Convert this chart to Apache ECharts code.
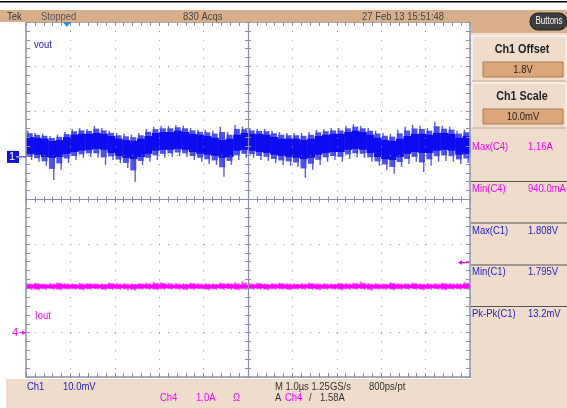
<!DOCTYPE html>
<html><head><meta charset="utf-8">
<script src="https://cdn.jsdelivr.net/npm/echarts@6/dist/echarts.min.js"></script>
<style>html,body{margin:0;padding:0;background:#fff}#c{width:567px;height:408px}</style>
</head><body><div id="c"></div>
<script>
// ---- Ch1 (vout) envelope per time bin, in mV (10 mV/div, offset 1.8 V) ----
const ch1CoreTop = [1804.5,1804.3,1804.1,1803.6,1803.8,1804.5,1805.0,1805.2,1805.2,1805.4,
  1805.2,1804.7,1804.1,1803.8,1803.6,1804.1,1804.7,1805.4,1805.6,1805.6,
  1805.9,1805.6,1805.2,1805.0,1804.7,1804.3,1803.8,1804.1,1805.0,1805.4,
  1805.2,1805.2,1805.0,1804.5,1804.1,1804.1,1804.1,1803.8,1804.1,1804.7,
  1805.0,1805.2,1805.2,1805.6,1805.9,1805.6,1805.0,1804.3,1803.8,1803.6,
  1804.1,1804.7,1805.2,1805.2,1805.0,1805.4,1805.4,1805.2,1804.3,1804.7];
const ch1CoreBot = [1800.7,1800.5,1800.0,1799.8,1800.0,1800.7,1801.1,1801.4,1801.6,1801.8,
  1801.6,1800.9,1800.2,1799.8,1799.5,1800.0,1800.7,1801.4,1801.6,1801.6,
  1801.8,1801.6,1801.1,1800.7,1800.5,1800.2,1799.8,1800.0,1801.4,1801.6,
  1801.4,1801.1,1800.9,1800.5,1800.2,1800.0,1799.8,1799.5,1799.8,1800.5,
  1800.9,1801.1,1801.1,1801.6,1801.8,1801.6,1800.9,1800.0,1799.5,1799.3,
  1800.0,1800.7,1801.1,1800.9,1800.9,1801.4,1801.6,1801.4,1800.5,1800.7];
const ch1SpikeTop = [1805.9,1805.4,1805.2,1804.7,1805.0,1805.6,1806.3,1806.5,1806.3,1807.0,
  1806.5,1805.9,1805.4,1805.2,1805.0,1805.4,1806.3,1806.8,1807.0,1807.0,
  1807.2,1807.0,1806.5,1806.1,1806.1,1805.9,1806.8,1805.6,1807.2,1806.8,
  1806.5,1806.3,1806.3,1805.9,1805.6,1805.4,1805.4,1805.4,1805.6,1806.1,
  1806.3,1806.5,1806.5,1807.0,1807.4,1807.0,1806.5,1805.9,1805.4,1805.2,
  1806.1,1806.8,1807.2,1807.0,1806.5,1807.9,1807.0,1806.8,1805.9,1806.1];
const ch1SpikeBot = [1799.3,1798.9,1798.0,1794.8,1797.1,1798.6,1799.3,1799.8,1800.0,1799.8,
  1798.2,1799.3,1798.6,1797.5,1794.4,1798.2,1798.9,1799.3,1799.8,1800.0,
  1800.2,1800.0,1799.3,1798.9,1798.4,1798.2,1795.5,1798.2,1799.3,1799.8,
  1799.8,1799.3,1799.1,1798.6,1798.2,1798.0,1797.7,1795.3,1797.1,1798.2,
  1798.9,1799.3,1798.9,1799.5,1799.8,1799.8,1798.9,1798.0,1797.1,1796.2,
  1797.7,1798.4,1798.9,1796.6,1798.0,1798.9,1799.1,1798.9,1798.4,1798.6];

// ---- Ch4 (Iout) envelope per time bin, in A (1.0 A/div) ----
const ch4CoreTop = [1.08,1.09,1.08,1.08,1.09,1.08,1.08,1.08,1.09,1.08,
  1.08,1.09,1.08,1.08,1.08,1.09,1.08,1.09,1.09,1.08,
  1.08,1.08,1.09,1.08,1.08,1.08,1.09,1.09,1.08,1.08,
  1.08,1.09,1.08,1.08,1.09,1.08,1.08,1.08,1.09,1.08,
  1.08,1.08,1.09,1.08,1.09,1.09,1.08,1.08,1.08,1.09,
  1.08,1.08,1.09,1.08,1.08,1.08,1.09,1.08,1.08,1.09];
const ch4CoreBot = [1.00,0.99,1.00,1.00,0.99,1.00,1.00,0.99,1.00,1.00,
  0.99,1.00,1.00,1.00,0.99,1.00,1.00,0.99,1.00,1.00,
  1.00,0.99,1.00,1.00,0.99,1.00,1.00,1.00,0.99,1.00,
  1.00,1.00,0.99,1.00,1.00,0.99,1.00,1.00,1.00,0.99,
  1.00,1.00,0.99,1.00,1.00,1.00,0.99,1.00,1.00,0.99,
  1.00,1.00,1.00,0.99,1.00,1.00,0.99,1.00,1.00,1.00];
const ch4SpikeTop = [1.12,1.13,1.11,1.12,1.14,1.12,1.11,1.13,1.12,1.12,
  1.11,1.13,1.12,1.12,1.11,1.12,1.13,1.15,1.14,1.13,
  1.12,1.11,1.13,1.12,1.12,1.11,1.13,1.12,1.14,1.16,
  1.12,1.13,1.11,1.12,1.13,1.12,1.11,1.12,1.13,1.12,
  1.12,1.11,1.13,1.12,1.13,1.15,1.12,1.12,1.11,1.14,
  1.12,1.12,1.13,1.11,1.12,1.12,1.13,1.12,1.12,1.14];
const ch4SpikeBot = [0.96,0.95,0.96,0.97,0.95,0.96,0.96,0.95,0.96,0.97,
  0.95,0.96,0.96,0.95,0.94,0.96,0.96,0.95,0.96,0.96,
  0.96,0.95,0.96,0.97,0.95,0.96,0.96,0.96,0.95,0.96,
  0.96,0.96,0.95,0.96,0.96,0.95,0.96,0.96,0.96,0.95,
  0.96,0.96,0.95,0.96,0.96,0.96,0.94,0.96,0.96,0.95,
  0.96,0.96,0.96,0.95,0.96,0.96,0.95,0.96,0.96,0.96];

// ---- scope settings ----
const timeDivs = 10, timePerDiv = 1.0;          // µs
const ch1Offset = 1800, ch1Scale = 10, ch1PosDiv = 0.96;   // mV, mV/div, div above centre
const ch4Scale = 1.0, ch4PosDiv = -3;           // A/div, div from centre
const trigLevel = 1.58;                          // A (Ch4)
const trigTime = 0.92;                           // µs from left edge
const BIN_US = timeDivs * timePerDiv / ch1CoreTop.length;

const topTexts = ['Tek', 'Stopped', '830 Acqs', '27 Feb 13 15:51:48'];
const measLabels = ['Max(C4)', 'Min(C4)', 'Max(C1)', 'Min(C1)', 'Pk-Pk(C1)'];
const measValues = ['1.16A', '940.0mA', '1.808V', '1.795V', '13.2mV'];

const BLUE = '#0c0cf0', BLUE_L = '#3c3cf4', BLUE_F = '#2424f0', MAG = '#ff00ff', MAG_L = '#f050f0', MAG_F = '#f828f8';
const FRAME = '#8a91a6', DOT = '#8a8a8a';
const FONT = '"Liberation Sans",Arial,sans-serif';
const SX = 0.86;

function mkData(a, b, c, d) {
  return a.map((v, i) => [(i + 0.5) * BIN_US, v, b[i], c[i], d[i]]);
}
function mkRender(core, spike, fringe) {
  return function (params, api) {
    const t = api.value(0);
    const p0 = api.coord([t - BIN_US / 2, api.value(1)]);
    const p1 = api.coord([t + BIN_US / 2, api.value(2)]);
    const st = api.coord([t - BIN_US / 4, api.value(3)]);
    const sb = api.coord([t + BIN_US / 4, api.value(4)]);
    const ft = p0[1] + (st[1] - p0[1]) * 0.6;
    const fb = p1[1] + (sb[1] - p1[1]) * 0.5;
    const mid = (p0[1] + p1[1]) / 2;
    const w = p1[0] - p0[0];
    return { type: 'group', children: [
      { type: 'rect', shape: { x: p0[0] + w * 0.1, y: ft, width: w * 0.8, height: fb - ft }, style: { fill: fringe, opacity: 0.8 } },
      { type: 'line', shape: { x1: st[0], y1: st[1], x2: st[0], y2: mid }, style: { stroke: spike, lineWidth: 1.4, opacity: 0.85 } },
      { type: 'line', shape: { x1: sb[0], y1: sb[1], x2: sb[0], y2: mid }, style: { stroke: spike, lineWidth: 1.4, opacity: 0.85 } },
      { type: 'rect', shape: { x: p0[0], y: p0[1], width: w + 0.5, height: p1[1] - p0[1] }, style: { fill: core } }
    ]};
  };
}

const hid = { axisLine: { show: false }, axisTick: { show: false }, axisLabel: { show: false }, splitLine: { show: false } };
function frameAxis(extra) {
  return Object.assign({
    type: 'value', z: 6,
    axisLine: { show: true, onZero: false, lineStyle: { color: FRAME, width: 1.5 } },
    axisTick: { show: true, inside: true, length: 4, lineStyle: { color: FRAME, width: 1 } },
    minorTick: { show: true, splitNumber: 5, length: 4, lineStyle: { color: FRAME, width: 1 } },
    axisLabel: { show: false },
    splitLine: { show: false }
  }, extra);
}
function centerAxis(extra, inside) {
  return Object.assign({
    type: 'value', z: 6,
    axisTick: { show: true, inside: inside, length: 3, lineStyle: { color: FRAME, width: 1 } },
    minorTick: { show: true, splitNumber: 5, length: 3, lineStyle: { color: FRAME, width: 1 } },
    axisLabel: { show: false },
    splitLine: { show: false }
  }, extra);
}
const dotted = { show: true, lineStyle: { color: DOT, width: 1, type: [1, 7.875] } };

const xMax = timeDivs * timePerDiv;
const ch4Min = (-4 - ch4PosDiv) * ch4Scale, ch4Max = (4 - ch4PosDiv) * ch4Scale;
const ch1Min = ch1Offset - (4 + ch1PosDiv) * ch1Scale, ch1Max = ch1Offset + (4 - ch1PosDiv) * ch1Scale;

const option = {
  animation: false,
  backgroundColor: '#ffffff',
  grid: { left: 26, top: 22, right: 97, bottom: 31, containLabel: false },
  xAxis: [
    frameAxis({ min: 0, max: xMax, interval: timePerDiv, position: 'bottom', splitLine: dotted }),
    frameAxis({ min: 0, max: xMax, interval: timePerDiv, position: 'top' }),
    Object.assign({ type: 'value', min: -5, max: 5, position: 'bottom' }, hid),
    centerAxis({ min: 0, max: xMax, interval: timePerDiv, position: 'bottom',
      axisLine: { show: true, onZero: true, onZeroAxisIndex: 3, lineStyle: { color: FRAME, width: 1.2 } } }, true),
    centerAxis({ min: 0, max: xMax, interval: timePerDiv, position: 'bottom',
      axisLine: { show: false, onZero: true, onZeroAxisIndex: 3 } }, false)
  ],
  yAxis: [
    frameAxis({ min: ch4Min, max: ch4Max, interval: ch4Scale, position: 'left', splitLine: dotted }),
    frameAxis({ min: ch4Min, max: ch4Max, interval: ch4Scale, position: 'right' }),
    Object.assign({ type: 'value', min: ch1Min, max: ch1Max, position: 'left' }, hid),
    Object.assign({ type: 'value', min: -4, max: 4, position: 'left' }, hid),
    centerAxis({ min: ch4Min, max: ch4Max, interval: ch4Scale, position: 'left',
      axisLine: { show: true, onZero: true, onZeroAxisIndex: 2, lineStyle: { color: FRAME, width: 1.2 } } }, true),
    centerAxis({ min: ch4Min, max: ch4Max, interval: ch4Scale, position: 'left',
      axisLine: { show: false, onZero: true, onZeroAxisIndex: 2 } }, false)
  ],
  series: [
    { type: 'custom', name: 'vout', xAxisIndex: 0, yAxisIndex: 2, z: 3,
      renderItem: mkRender(BLUE, BLUE_L, BLUE_F), data: mkData(ch1CoreTop, ch1CoreBot, ch1SpikeTop, ch1SpikeBot) },
    { type: 'custom', name: 'Iout', xAxisIndex: 0, yAxisIndex: 0, z: 3,
      renderItem: mkRender(MAG, MAG_L, MAG_F), data: mkData(ch4CoreTop, ch4CoreBot, ch4SpikeTop, ch4SpikeBot) }
  ]
};

const chart = echarts.init(document.getElementById('c'), null, { renderer: 'canvas' });
chart.setOption(option);

// ---- instrument chrome ----
const y1 = chart.convertToPixel({ yAxisIndex: 2 }, ch1Offset);
const y4 = chart.convertToPixel({ yAxisIndex: 0 }, 0);
const yT = chart.convertToPixel({ yAxisIndex: 0 }, trigLevel);
const xT = chart.convertToPixel({ xAxisIndex: 0 }, trigTime);

function txt(x, y, s, color, size, extra, sx) {
  return { type: 'text', x: x, y: y, z: 20, scaleX: sx || SX,
    style: Object.assign({ text: s, fill: color, font: (size || 11) + 'px ' + FONT, textVerticalAlign: 'middle', textAlign: 'left' }, extra || {}) };
}
const TAN = '#d9af8b', PANEL = '#efdccb', BOX = '#dba77a';
const BLUE_T = '#2020c8';
const g = [];
// top line and bar
g.push({ type: 'rect', z: 15, shape: { x: 0, y: 1, width: 567, height: 1.5 }, style: { fill: '#000' } });
g.push({ type: 'rect', z: 15, shape: { x: 0, y: 10, width: 567, height: 12 }, style: { fill: TAN } });
// right panel
g.push({ type: 'rect', z: 15, shape: { x: 471, y: 22, width: 96, height: 386 }, style: { fill: PANEL } });
g.push({ type: 'rect', z: 15, shape: { x: 471, y: 10, width: 96, height: 23 }, style: { fill: TAN } });
// bottom bar
g.push({ type: 'rect', z: 14, shape: { x: 6, y: 379, width: 561, height: 29 }, style: { fill: PANEL } });
// top texts
g.push(txt(7, 16.5, topTexts[0], '#333', 11));
g.push(txt(41, 16.5, topTexts[1], '#555', 11));
g.push(txt(183, 16.5, topTexts[2], '#444', 11));
g.push(txt(362, 16.5, topTexts[3], '#444', 11));
// Buttons pill
g.push({ type: 'rect', z: 16, shape: { x: 530, y: 13, width: 37, height: 17, r: 8 }, style: { fill: '#3d3d3d', stroke: '#222', lineWidth: 1 } });
g.push(txt(549, 21.5, 'Buttons', '#fff', 10, { textAlign: 'center' }, 0.8));
// sections
[[36, 'Ch1 Offset', '1.8V'], [83, 'Ch1 Scale', '10.0mV']].forEach(([top, title, val]) => {
  g.push({ type: 'rect', z: 16, shape: { x: 472, y: top, width: 94, height: 45 }, style: { fill: PANEL, stroke: '#fff', lineWidth: 1 } });
  g.push({ type: 'line', z: 16, shape: { x1: 472, y1: top + 45, x2: 566, y2: top + 45 }, style: { stroke: '#b89a80', lineWidth: 1 } });
  g.push(txt(522, top + 14, title, '#222', 12, { textAlign: 'center', font: 'bold 12px ' + FONT }, 0.9));
  g.push({ type: 'rect', z: 16, shape: { x: 483, y: top + 26, width: 80, height: 15 }, style: { fill: BOX, stroke: '#a97a55', lineWidth: 1 } });
  g.push(txt(523, top + 34, val, '#222', 11, { textAlign: 'center' }));
});
// measurements
const measY = [147, 189, 231, 272, 314];
const measCol = [MAG, MAG, BLUE_T, BLUE_T, BLUE_T];
measLabels.forEach((l, i) => {
  g.push(txt(472, measY[i], l, measCol[i], 11));
  g.push(txt(528, measY[i], measValues[i], measCol[i], 11));
});
[181.5, 223, 265, 306.5].forEach(y => g.push({ type: 'line', z: 16, shape: { x1: 471, y1: y, x2: 567, y2: y }, style: { stroke: '#555', lineWidth: 1 } }));
// bottom texts
g.push(txt(27, 387, 'Ch1', BLUE_T, 11));
g.push(txt(63, 387, '10.0mV', BLUE_T, 11));
g.push(txt(275, 387, 'M 1.0µs 1.25GS/s', '#333', 11));
g.push(txt(369, 387, '800ps/pt', '#333', 11));
g.push(txt(160, 398, 'Ch4', MAG, 11));
g.push(txt(196, 398, '1.0A', MAG, 11));
g.push(txt(233, 398, 'Ω', MAG, 11));
g.push(txt(275, 398, 'A', '#333', 11));
g.push(txt(285, 398, 'Ch4', MAG, 11));
g.push(txt(309, 398, '/', '#333', 11));
g.push(txt(320, 398, '1.58A', '#333', 11));
// channel labels
g.push(txt(34, 45, 'vout', BLUE_T, 11));
g.push(txt(35, 316, 'Iout', MAG, 11));
// Ch1 ground marker
g.push({ type: 'rect', z: 20, shape: { x: 7, y: y1 - 6, width: 12, height: 12 }, style: { fill: '#1010e0' } });
g.push(txt(9, y1, '1', '#fff', 11, null, 1));
g.push({ type: 'line', z: 20, shape: { x1: 16, y1: y1, x2: 25, y2: y1 }, style: { stroke: '#fff', lineWidth: 1 } });
g.push({ type: 'line', z: 20, shape: { x1: 19, y1: y1, x2: 26, y2: y1 }, style: { stroke: '#1010e0', lineWidth: 1 } });
// Ch4 ground marker
g.push(txt(12, y4, '4', MAG, 11, null, 1));
g.push({ type: 'line', z: 20, shape: { x1: 19, y1: y4, x2: 25, y2: y4 }, style: { stroke: MAG, lineWidth: 1 } });
g.push({ type: 'polygon', z: 20, shape: { points: [[26, y4], [22, y4 - 2], [22, y4 + 2]] }, style: { fill: MAG } });
// trigger level arrow (right)
g.push({ type: 'polygon', z: 20, shape: { points: [[458, yT], [462, yT - 2.5], [462, yT + 2.5]] }, style: { fill: MAG } });
g.push({ type: 'line', z: 20, shape: { x1: 461, y1: yT, x2: 469, y2: yT }, style: { stroke: MAG, lineWidth: 1.2 } });
// trigger position marker (top)
g.push({ type: 'polygon', z: 20, shape: { points: [[xT - 4, 22], [xT + 4, 22], [xT, 27]] }, style: { fill: '#2a8ee0' } });
chart.setOption({ graphic: g });
</script>
</body></html>
